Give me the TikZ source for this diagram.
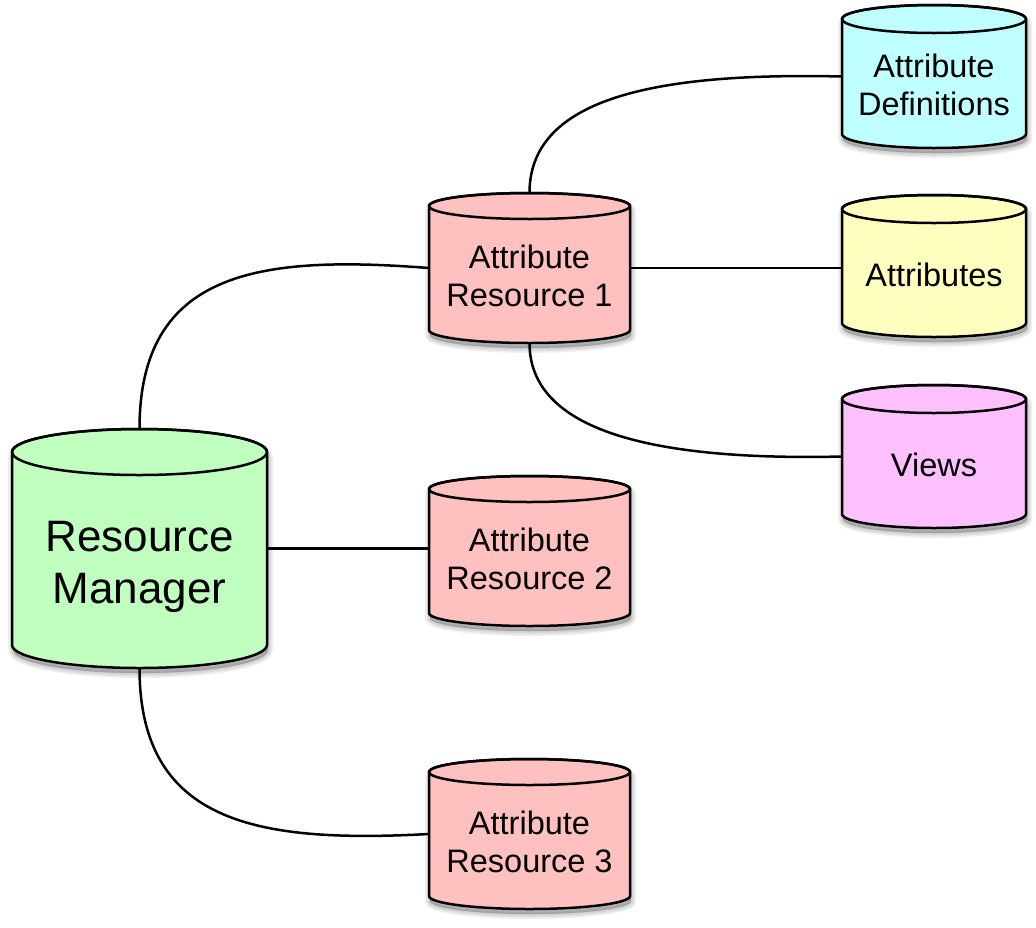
\documentclass[tikz,border=0pt]{standalone}
\usepackage{fontspec}
\setmainfont{Liberation Sans}
\definecolor{rmgreen}{RGB}{192,255,192}
\definecolor{arpink}{RGB}{255,192,192}
\definecolor{adcyan}{RGB}{192,255,255}
\definecolor{atyellow}{RGB}{255,255,192}
\definecolor{vwmag}{RGB}{255,192,255}
\newcommand{\cylshape}[5]{(#1-#4,-#2) -- (#1-#4,-#3) arc[start angle=180,end angle=360,x radius=#4,y radius=#5] -- (#1+#4,-#2) arc[start angle=0,end angle=180,x radius=#4,y radius=#5] -- cycle}
\newcommand{\dbcyl}[7]{%
  \foreach \w in {10,7,4,1}{\path[fill=black,draw=black,line width=\w pt,opacity=0.06,yshift=-5pt,xshift=1pt] \cylshape{#2}{#3}{#4}{#5}{#6};}
  \path[fill=#7,cylline] \cylshape{#2}{#3}{#4}{#5}{#6};
  \draw[cylline] (#2,-#3) ellipse[x radius=#5,y radius=#6];
  \node[cylbox,minimum width=2*#5,minimum height=#4-#3+2*#6] (#1) at (#2,{-(#3+#4)/2}) {};
}
\begin{document}
\begin{tikzpicture}[x=1pt,y=1pt,line join=round]
\tikzset{
  cylbox/.style={draw=none,inner sep=0pt,outer sep=0pt,rectangle},
  cyltext/.style={align=center,inner sep=0pt,font=\fontsize{32.5}{38.6}\selectfont},
  bigtext/.style={align=center,inner sep=0pt,font=\fontsize{44}{52}\selectfont},
  cylline/.style={line width=2.5pt,draw=black},
  conn/.style={line width=2.5pt,draw=black}
}
\useasboundingbox (0,0) rectangle (1036,-927);
% cylinders
\dbcyl{rm}{139.5}{452}{645}{127.5}{23}{rmgreen}
\dbcyl{ar1}{529.5}{206}{330}{100.5}{13}{arpink}
\dbcyl{ar2}{529.5}{489}{613}{100.5}{13}{arpink}
\dbcyl{ar3}{529.5}{772}{896}{100.5}{13}{arpink}
\dbcyl{ad}{934}{19}{134}{92}{14}{adcyan}
\dbcyl{at}{934}{209}{323}{92}{14}{atyellow}
\dbcyl{vw}{934}{399}{514}{92}{14}{vwmag}
% texts
\node[bigtext] (rm-t) at (139.5,-567) {Resource\\Manager};
\node[cyltext] (ar1-t) at (529.5,-276) {Attribute\\Resource 1};
\node[cyltext] (ar2-t) at (529.5,-559) {Attribute\\Resource 2};
\node[cyltext] (ar3-t) at (529.5,-842) {Attribute\\Resource 3};
\node[cyltext] (ad-t) at (934,-85) {Attribute\\Definitions};
\node[cyltext] (at-t) at (934,-275) {Attributes};
\node[cyltext] (vw-t) at (934,-465) {Views};
% connectors
\draw[conn] (rm.north) .. controls (139.5,-270) and (260,-255) .. (ar1.west);
\draw[conn] (rm.east) -- (rm.east -| ar2.west);
\draw[conn] (rm.south) .. controls (139.5,-825) and (260,-843) .. (ar3.west);
\draw[conn] (ar1.north) .. controls (529.5,-100) and (650,-72) .. (ad.west);
\draw[conn] (ar1.east) -- (ar1.east -| at.west);
\draw[conn] (ar1.south) .. controls (529.5,-430) and (650,-461) .. (vw.west);
\end{tikzpicture}
\end{document}
